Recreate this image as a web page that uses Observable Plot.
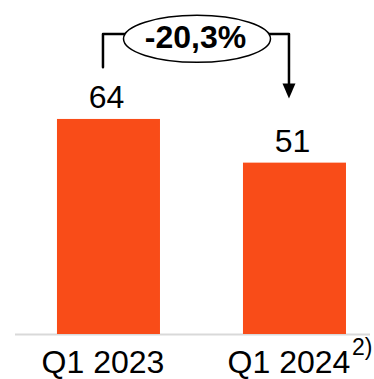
<!DOCTYPE html>
<html><head><meta charset="utf-8">
<script src="https://cdn.jsdelivr.net/npm/d3@7"></script>
<script src="https://cdn.jsdelivr.net/npm/@observablehq/plot@0.6"></script>
<style>body{margin:0;background:#fff}</style>
</head><body><div id="chart"></div>
<script>
const quarters = ["Q1 2023", "Q1 2024"];
const values = [64, 51];
const footnotes = ["", "2)"];
const changeLabel = "-20,3%";
// annotation levels, in value units
const bracketStart = 79.5;
const bracketLevel = 89.4;
const arrowBase = 74.4;
const arrowHead = 72.5;
const ellipseLevel = 88.0;
const changeTextLevel = 88.4;

const data = quarters.map((q, i) => ({q, v: values[i], note: footnotes[i]}));
const connector = [
  {q: quarters[0], y: bracketStart},
  {q: quarters[0], y: bracketLevel},
  {q: quarters[1], y: bracketLevel},
  {q: quarters[1], y: arrowBase}
];

const ellipseSymbol = {
  draw(ctx) {
    const rx = 73.5, ry = 23.5, k = 0.5523;
    ctx.moveTo(rx, 0);
    ctx.bezierCurveTo(rx, ry * k, rx * k, ry, 0, ry);
    ctx.bezierCurveTo(-rx * k, ry, -rx, ry * k, -rx, 0);
    ctx.bezierCurveTo(-rx, -ry * k, -rx * k, -ry, 0, -ry);
    ctx.bezierCurveTo(rx * k, -ry, rx, -ry * k, rx, 0);
    ctx.closePath();
  }
};
const arrowSymbol = {
  draw(ctx) {
    ctx.moveTo(-6.5, -7.5);
    ctx.lineTo(6.5, -7.5);
    ctx.lineTo(0, 7.5);
    ctx.closePath();
  }
};

const font = "'Liberation Sans', Arial, sans-serif";
const chart = Plot.plot({
  width: 374,
  height: 379,
  marginTop: 0,
  marginBottom: 45,
  marginLeft: 15,
  marginRight: 4,
  style: {fontFamily: font, background: "#fff", color: "#000"},
  x: {domain: quarters, paddingInner: 0.4462, paddingOuter: 0.1774, align: 0.636, round: false, axis: null},
  y: {domain: [0, 99.4], axis: null},
  marks: [
    Plot.ruleY([0], {stroke: "#d9d9d9", strokeWidth: 2}),
    Plot.barY(data, {x: "q", y: "v", fill: "#F94C18"}),
    Plot.axisX({tickSize: 0, tickPadding: 16, fontSize: 32, dx: -6, label: null, fill: "#000"}),
    Plot.text(data, {x: "q", y: "v", text: d => String(d.v), lineAnchor: "bottom", dy: -11, dx: -2.5, fontSize: 32, fill: "#000"}),
    Plot.text(data.filter(d => d.note), {x: "q", frameAnchor: "bottom", text: "note", textAnchor: "start", lineAnchor: "bottom", dx: 57, dy: 20, fontSize: 23, fill: "#000"}),
    Plot.line(connector, {x: "q", y: "y", stroke: "#000", strokeWidth: 2.5, dx: -6, curve: "linear"}),
    Plot.dot([arrowHead], {x: () => quarters[1], y: d => d, symbol: arrowSymbol, r: 5, fill: "#000", stroke: "none", dx: -6}),
    Plot.dot([ellipseLevel], {y: d => d, symbol: ellipseSymbol, r: 5, fill: "#fff", stroke: "#000", strokeWidth: 1.5, dx: 4}),
    Plot.text([{label: changeLabel, y: changeTextLevel}], {y: "y", text: "label", fontWeight: "bold", fontSize: 32, dx: 2.5, fill: "#000"})
  ]
});
document.getElementById("chart").appendChild(chart);
</script>
</body></html>
